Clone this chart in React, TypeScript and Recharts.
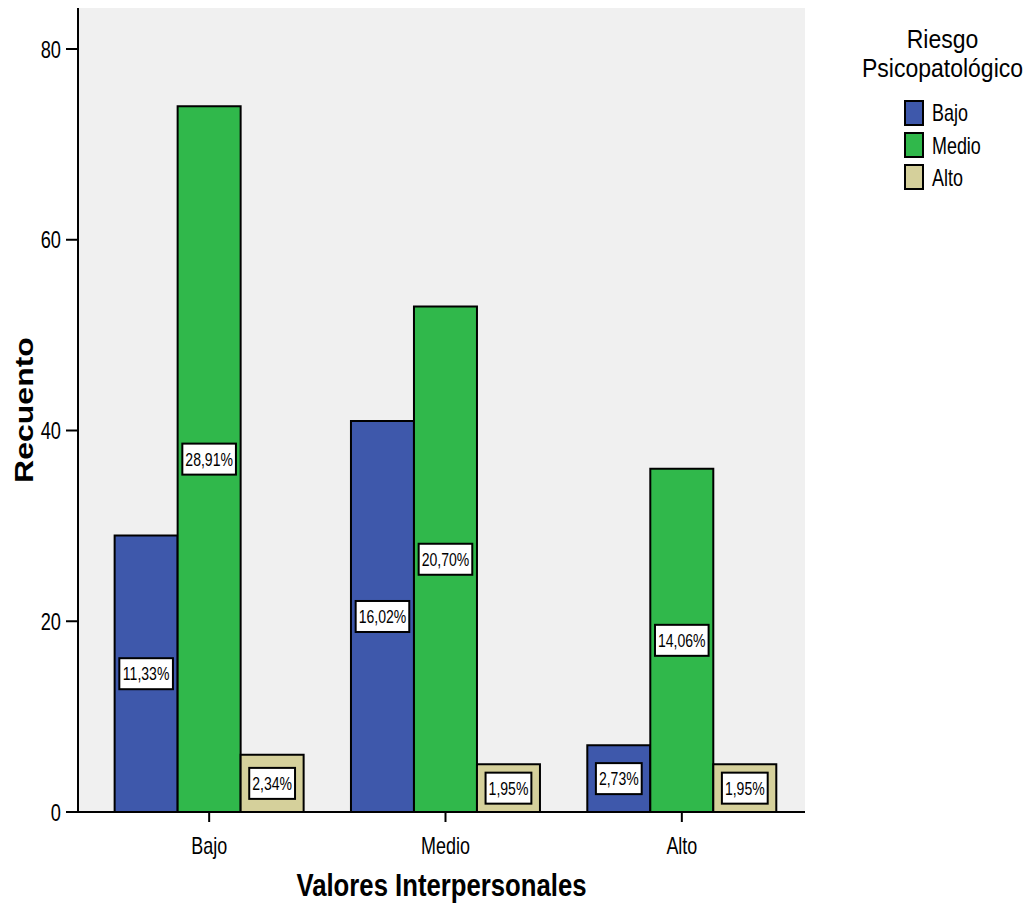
import React from "react";
import { BarChart, Bar, XAxis, YAxis, LabelList, CartesianGrid } from "recharts";

const categories = ["Bajo", "Medio", "Alto"];
const bajoValues = [29, 41, 7];
const medioValues = [74, 53, 36];
const altoValues = [6, 5, 5];
const bajoLabels = ["11,33%", "16,02%", "2,73%"];
const medioLabels = ["28,91%", "20,70%", "14,06%"];
const altoLabels = ["2,34%", "1,95%", "1,95%"];
const yTicks = [0, 20, 40, 60, 80];
const seriesNames = ["Bajo", "Medio", "Alto"];
const legendTitle = ["Riesgo", "Psicopatológico"];
const colors = ["#3e58ab", "#30b84b", "#d5d09b"];

const data = categories.map((c, i) => ({
  cat: c,
  bajo: bajoValues[i],
  medio: medioValues[i],
  alto: altoValues[i],
  bajoL: bajoLabels[i],
  medioL: medioLabels[i],
  altoL: altoLabels[i],
}));

const FONT = "'Liberation Sans', Arial, sans-serif";
const SX = 0.78;

const charW = (s: string) => {
  let w = 0;
  for (const ch of s) {
    if (ch === "%") w += 0.889;
    else if (ch === "," || ch === ".") w += 0.278;
    else w += 0.556;
  }
  return w;
};

const SText = (props: any) => {
  const { x, y, size, anchor = "middle", weight = "normal", children, sx = SX } = props;
  return (
    <text
      transform={`translate(${x},${y}) scale(${sx},1)`}
      textAnchor={anchor}
      fontSize={size}
      fontWeight={weight}
      fontFamily={FONT}
      fill="#000"
    >
      {children}
    </text>
  );
};

const BoxLabel = (props: any) => {
  const { x, y, width, height, value } = props;
  const cx = x + width / 2;
  const cy = y + height / 2;
  const w = charW(String(value)) * 18 * SX + 6;
  const h = 31;
  return (
    <g>
      <rect x={cx - w / 2} y={cy - h / 2} width={w} height={h} fill="#fff" stroke="#000" strokeWidth={2} />
      <SText x={cx} y={cy + 6.5} size={18}>{value}</SText>
    </g>
  );
};

const XTick = (props: any) => {
  const { x, y, payload } = props;
  return <SText x={x} y={y + 30} size={23}>{payload.value}</SText>;
};

const YTick = (props: any) => {
  const { x, y, payload } = props;
  return <SText x={x - 3} y={y + 8.5} size={24} anchor="end" sx={0.76}>{payload.value}</SText>;
};

const XTitle = (props: any) => {
  const vb = props.viewBox;
  return (
    <SText x={vb.x + vb.width / 2} y={vb.y + 84} size={31} weight="bold" sx={0.83}>
      Valores Interpersonales
    </SText>
  );
};

const YTitle = (props: any) => {
  const vb = props.viewBox;
  return (
    <text
      transform={`translate(33,${vb.y + vb.height / 2}) rotate(-90) scale(1,${SX})`}
      textAnchor="middle"
      fontSize={32}
      fontWeight="bold"
      fontFamily={FONT}
      fill="#000"
    >
      Recuento
    </text>
  );
};

const LegendSvg = () => (
  <svg width={200} height={200} style={{ position: "absolute", left: 836, top: 0 }}>
    <SText x={106.5} y={48} size={25} sx={0.92}>{legendTitle[0]}</SText>
    <SText x={106.5} y={77} size={25} sx={0.92}>{legendTitle[1]}</SText>
    {seriesNames.map((n, i) => (
      <g key={n}>
        <rect x={69} y={101 + i * 32} width={18} height={24} fill={colors[i]} stroke="#000" strokeWidth={2} />
        <SText x={96} y={121 + i * 32.5} size={23} anchor="start">{n}</SText>
      </g>
    ))}
  </svg>
);

export default function App() {
  return (
    <div style={{ position: "absolute", left: 0, top: 0, width: 1036, height: 909, background: "#fff" }}>
      <BarChart
        width={1036}
        height={909}
        data={data}
        margin={{ top: 8, right: 231, left: 0, bottom: 0 }}
        barCategoryGap="10%"
        barGap={0}
      >
        <CartesianGrid fill="#f0f0f0" horizontal={false} vertical={false} />
        <XAxis
          dataKey="cat"
          height={97}
          padding={{ left: 13, right: 5 }}
          axisLine={{ stroke: "#000", strokeWidth: 2 }}
          tickLine={{ stroke: "#000", strokeWidth: 2 }}
          tickSize={10}
          tick={<XTick />}
          label={<XTitle />}
        />
        <XAxis xAxisId="top" orientation="top" dataKey="cat" height={0} tick={false} tickLine={false} axisLine={{ stroke: "#000", strokeWidth: 2 }} />
        <YAxis
          width={78}
          domain={[0, 84.3]}
          ticks={yTicks}
          allowDataOverflow
          axisLine={{ stroke: "#000", strokeWidth: 2 }}
          tickLine={{ stroke: "#000", strokeWidth: 2 }}
          tickSize={12}
          tick={<YTick />}
          label={<YTitle />}
        />
        <YAxis yAxisId="right" orientation="right" width={0} domain={[0, 84.3]} tick={false} tickLine={false} axisLine={{ stroke: "#000", strokeWidth: 2 }} />
        <Bar dataKey="bajo" name="Bajo" fill={colors[0]} stroke="#000" strokeWidth={2} isAnimationActive={false}>
          <LabelList dataKey="bajoL" content={<BoxLabel />} />
        </Bar>
        <Bar dataKey="medio" name="Medio" fill={colors[1]} stroke="#000" strokeWidth={2} isAnimationActive={false}>
          <LabelList dataKey="medioL" content={<BoxLabel />} />
        </Bar>
        <Bar dataKey="alto" name="Alto" fill={colors[2]} stroke="#000" strokeWidth={2} isAnimationActive={false}>
          <LabelList dataKey="altoL" content={<BoxLabel />} />
        </Bar>
      </BarChart>
      <LegendSvg />
    </div>
  );
}
